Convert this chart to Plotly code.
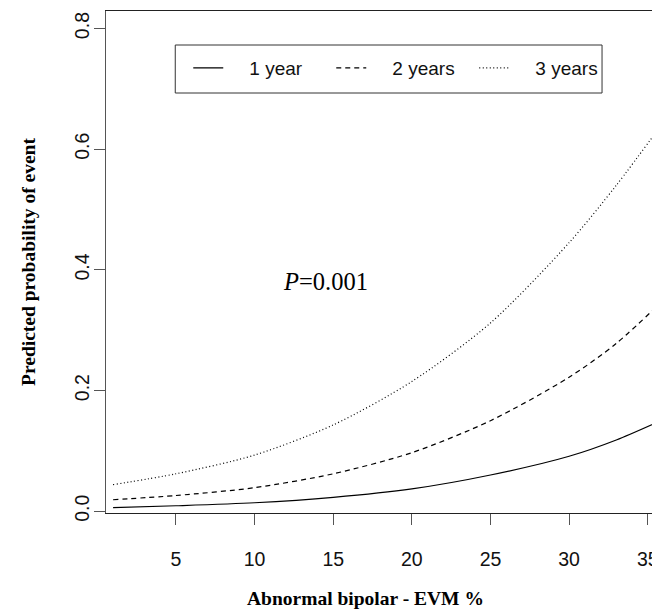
import plotly.graph_objects as go

# Data
evm_pct = [1, 5, 10, 15, 20, 25, 30, 33, 36]
prob_1yr = [0.006, 0.009, 0.014, 0.023, 0.037, 0.060, 0.091, 0.118, 0.152]
prob_2yr = [0.019, 0.026, 0.039, 0.062, 0.097, 0.150, 0.222, 0.278, 0.350]
prob_3yr = [0.044, 0.062, 0.093, 0.143, 0.215, 0.312, 0.445, 0.540, 0.645]

series_names = ["1 year", "2 years", "3 years"]
x_ticks = [5, 10, 15, 20, 25, 30, 35]
y_ticks = [0.0, 0.2, 0.4, 0.6, 0.8]
y_tick_text = ["0.0", "0.2", "0.4", "0.6", "0.8"]

# page body has an 8px margin, so the figure is 8px smaller than the window
W, H = 652, 605
L, T, B = 97.7, 3, 100
PW, PH = W - L, H - T - B

def px_x(px):  # window px -> paper x
    return (px - 8 - L) / PW

def px_y(py):  # window px -> paper y
    return (H - B - (py - 8)) / PH

SANS = "Liberation Sans, Arial, sans-serif"
SERIF = "Liberation Serif, Times New Roman, serif"

pad = "&nbsp;&nbsp;&nbsp;&nbsp;"
fig = go.Figure()
for name, ys, dash in zip(series_names, [prob_1yr, prob_2yr, prob_3yr],
                          ["solid", "5px,4px", "1px,2.5px"]):
    fig.add_trace(go.Scatter(
        x=evm_pct, y=ys, mode="lines", name=pad + name,
        line=dict(color="black", width=1.2, dash=dash, shape="spline", smoothing=0.8),
    ))

fig.add_annotation(x=14.5, y=0.38, xref="x", yref="y", text="<i>P</i>=0.001",
                   showarrow=False, font=dict(family=SERIF, size=24.5, color="black"))

fig.add_annotation(x=px_x(365), y=px_y(598), xref="paper", yref="paper",
                   text="<b>Abnormal bipolar - EVM %</b>", showarrow=False,
                   xanchor="center", yanchor="middle",
                   font=dict(family=SERIF, size=19.5, color="black"))

# legend frame
fig.add_shape(type="rect", xref="paper", yref="paper",
              x0=px_x(175), x1=px_x(602), y0=px_y(93), y1=px_y(45),
              line=dict(color="#333", width=1), fillcolor="white", layer="below")

fig.update_layout(
    width=W, height=H,
    margin=dict(l=L, r=0, t=T, b=B),
    plot_bgcolor="white", paper_bgcolor="white",
    showlegend=True,
    legend=dict(orientation="h", x=px_x(188), xanchor="left", y=px_y(68), yanchor="middle",
                bgcolor="rgba(0,0,0,0)", borderwidth=0, entrywidth=98, entrywidthmode="pixels",
                font=dict(family=SANS, size=19, color="#111")),
    xaxis=dict(range=[0.55, 35.78], tickvals=x_ticks, ticks="outside", ticklen=11, tickwidth=1,
               tickcolor="#555", showline=True, linecolor="#222", linewidth=1, mirror=True,
               showgrid=False, zeroline=False, ticklabelstandoff=18,
               tickfont=dict(family=SANS, size=19.5, color="#111")),
    yaxis=dict(range=[-0.003, 0.829], tickvals=y_ticks, ticktext=y_tick_text, ticks="outside",
               ticklen=11, tickwidth=1, tickcolor="#555", showline=True, linecolor="#555",
               linewidth=1, showgrid=False, zeroline=False, tickangle=-90, ticklabelstandoff=-3,
               tickfont=dict(family=SANS, size=19.5, color="#111"),
               title=dict(text="<b>Predicted probability of event</b>", standoff=30,
                          font=dict(family=SERIF, size=19.5, color="black"))),
)

fig.write_html("out.html")
